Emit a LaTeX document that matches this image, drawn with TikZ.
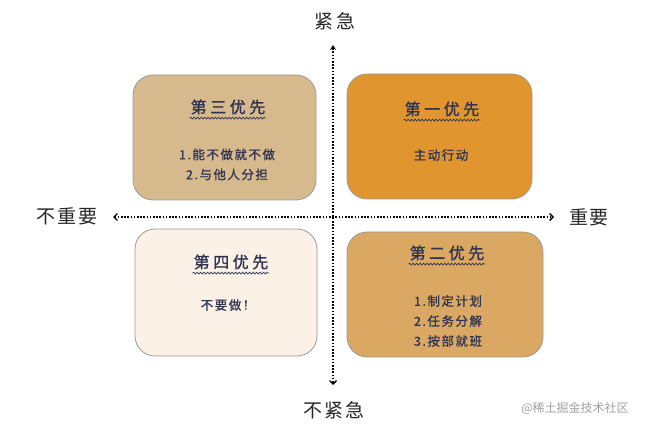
\documentclass[tikz,border=0pt]{standalone}
\usepackage{fontspec}
\setmainfont{Noto Sans CJK SC}
\newfontfamily\titlefont[LetterSpace=22,FakeBold=1.2]{Noto Sans CJK SC}
\newfontfamily\notefont[LetterSpace=12,FakeBold=0.8]{Noto Sans CJK SC}
\newfontfamily\axisfont[LetterSpace=10]{Noto Sans CJK SC}
\usetikzlibrary{arrows.meta,decorations.pathmorphing}

\definecolor{inkblue}{HTML}{2E3352}
\definecolor{tanbox}{HTML}{D6B98C}
\definecolor{orangebox}{HTML}{E0952F}
\definecolor{creambox}{HTML}{FBF1E6}
\definecolor{ochrebox}{HTML}{DAA862}
\definecolor{edgegray}{HTML}{9A9A9A}
\definecolor{markgray}{HTML}{A0A0A0}

\begin{document}
\begin{tikzpicture}[x=1pt,y=-1pt,
  quad/.style={draw=edgegray,line width=0.8pt,rounded corners=20pt,inner sep=0pt},
  prio/.style={text=inkblue,inner sep=1pt,font=\titlefont\fontsize{16}{20}\selectfont},
  note/.style={text=inkblue,align=center,font=\notefont\fontsize{12.5}{20}\selectfont},
  wavy/.style={inkblue,line width=0.7pt,decorate,
    decoration={snake,amplitude=0.9pt,segment length=3.5pt}},
  axis/.style={line width=1.3pt,dash pattern=on 1.6pt off 1.6pt},
  axislabel/.style={text=black!85,font=\axisfont\fontsize{19}{22}\selectfont}]
  \useasboundingbox (0,0) rectangle (650,430);

  % axes
  \coordinate (top) at (333,45);
  \coordinate (bottom) at (333,385);
  \coordinate (left) at (113,217);
  \coordinate (right) at (554,217);
  \draw[axis,{Stealth[length=5pt,width=6pt]}-{Straight Barb[length=3.5pt,width=7pt]}] (top) -- (bottom);
  \draw[axis,{Straight Barb[length=3.5pt,width=7pt]}-{Straight Barb[length=3.5pt,width=7pt]}] (left) -- (right);

  \node[axislabel] (urgent) at (335,21) {紧\hspace{3pt}急};
  \node[axislabel] (noturgent) at (334,410) {不紧急};
  \node[axislabel] (notimportant) at (67,216) {不重要};
  \node[axislabel] (important) at (589,217) {重要};

  % quadrants
  \node[quad,fill=tanbox,minimum width=183pt,minimum height=125pt] (third) at (224.5,137.5) {};
  \node[quad,fill=orangebox,minimum width=185pt,minimum height=125pt] (first) at (439.5,136.5) {};
  \node[quad,fill=creambox,minimum width=182pt,minimum height=127pt] (fourth) at (226,292.5) {};
  \node[quad,fill=ochrebox,minimum width=196pt,minimum height=125pt] (second) at (445,294.5) {};

  % titles with wavy underline
  \node[prio] (thirdtitle) at (228,107) {第三优先};
  \node[prio] (firsttitle) at (442,109) {第一优先};
  \node[prio] (fourthtitle) at (231,262) {第四优先};
  \node[prio] (secondtitle) at (447,253) {第二优先};
  \foreach \t in {thirdtitle,firsttitle,fourthtitle,secondtitle}
    \draw[wavy] ([yshift=-2.5pt]\t.south west) -- ([yshift=-2.5pt]\t.south east);

  % contents
  \node[note] (thirdnote) at (227,164.5) {1.能不做就不做\\2.与他人分担};
  \node[note] (firstnote) at (441,155) {主动行动};
  \node[note] (fourthnote) at (228,305) {不要做！};
  \node[note] (secondnote) at (448,321) {1.制定计划\\2.任务分解\\3.按部就班};

  \node[text=markgray,font=\fontsize{12}{14}\selectfont] (mark) at (575,408) {@稀土掘金技术社区};
\end{tikzpicture}
\end{document}
